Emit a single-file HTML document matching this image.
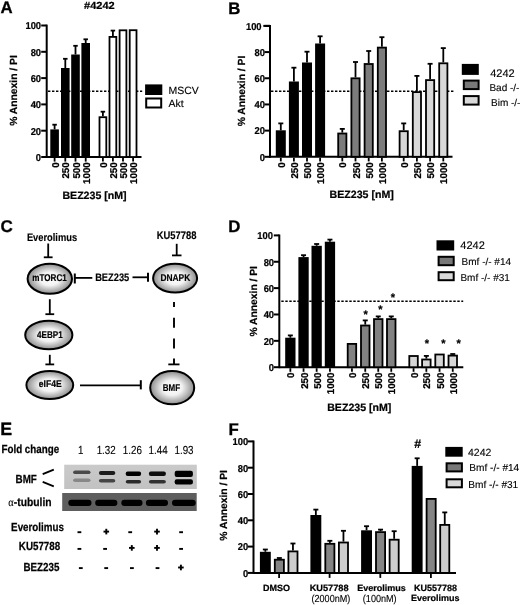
<!DOCTYPE html>
<html><head><meta charset="utf-8"><style>
html,body{margin:0;padding:0;background:#fff;}
svg{display:block;filter:grayscale(1);}
text{font-family:"Liberation Sans", sans-serif;text-rendering:geometricPrecision;}
</style></head><body>
<svg width="520" height="605" viewBox="0 0 520 605">
<rect width="520" height="605" fill="#fff"/>
<defs>
<radialGradient id="eg" cx="50%" cy="50%" r="50%">
<stop offset="0" stop-color="#ffffff"/><stop offset="0.45" stop-color="#f2f2f2"/><stop offset="1" stop-color="#8c8c8c"/>
</radialGradient>
<linearGradient id="bmfbg" x1="0" y1="0" x2="0" y2="1">
<stop offset="0" stop-color="#cacaca"/><stop offset="1" stop-color="#c2c2c2"/>
</linearGradient>
<filter id="blur" x="-20%" y="-100%" width="140%" height="300%"><feGaussianBlur stdDeviation="0.75"/></filter>
</defs>
<text transform="translate(0.50 13.40)" font-size="16.8" font-weight="bold" text-anchor="start" fill="#000" stroke="#000" stroke-width="0.3">A</text>
<text transform="translate(84.00 8.90) scale(1.07 1)" font-size="10.3" font-weight="bold" text-anchor="start" fill="#000" stroke="#000" stroke-width="0.22">#4242</text>
<line x1="46.70" y1="157.00" x2="141.50" y2="157.00" stroke="#000" stroke-width="2" stroke-linecap="butt"/>
<line x1="46.70" y1="24.60" x2="46.70" y2="158.00" stroke="#000" stroke-width="2" stroke-linecap="butt"/>
<line x1="41.20" y1="157.00" x2="46.70" y2="157.00" stroke="#000" stroke-width="2" stroke-linecap="butt"/>
<text transform="translate(41.10 160.85) scale(0.94 1)" font-size="10.0" font-weight="bold" text-anchor="end" fill="#000" stroke="#000" stroke-width="0.22">0</text>
<line x1="41.20" y1="130.70" x2="46.70" y2="130.70" stroke="#000" stroke-width="2" stroke-linecap="butt"/>
<text transform="translate(41.10 134.55) scale(0.94 1)" font-size="10.0" font-weight="bold" text-anchor="end" fill="#000" stroke="#000" stroke-width="0.22">20</text>
<line x1="41.20" y1="104.40" x2="46.70" y2="104.40" stroke="#000" stroke-width="2" stroke-linecap="butt"/>
<text transform="translate(41.10 108.25) scale(0.94 1)" font-size="10.0" font-weight="bold" text-anchor="end" fill="#000" stroke="#000" stroke-width="0.22">40</text>
<line x1="41.20" y1="78.10" x2="46.70" y2="78.10" stroke="#000" stroke-width="2" stroke-linecap="butt"/>
<text transform="translate(41.10 81.95) scale(0.94 1)" font-size="10.0" font-weight="bold" text-anchor="end" fill="#000" stroke="#000" stroke-width="0.22">60</text>
<line x1="41.20" y1="51.80" x2="46.70" y2="51.80" stroke="#000" stroke-width="2" stroke-linecap="butt"/>
<text transform="translate(41.10 55.65) scale(0.94 1)" font-size="10.0" font-weight="bold" text-anchor="end" fill="#000" stroke="#000" stroke-width="0.22">80</text>
<line x1="41.20" y1="25.50" x2="46.70" y2="25.50" stroke="#000" stroke-width="2" stroke-linecap="butt"/>
<text transform="translate(41.10 29.35) scale(0.94 1)" font-size="10.0" font-weight="bold" text-anchor="end" fill="#000" stroke="#000" stroke-width="0.22">100</text>
<text transform="translate(16.80 90.50) rotate(-90)" font-size="10.3" font-weight="bold" text-anchor="middle" fill="#000" stroke="#000" stroke-width="0.2">% Annexin / PI</text>
<line x1="48.00" y1="91.30" x2="142.20" y2="91.30" stroke="#000" stroke-width="1.6" stroke-linecap="butt" stroke-dasharray="2.4 1.6"/>
<line x1="54.60" y1="129.40" x2="54.60" y2="124.70" stroke="#000" stroke-width="1.8" stroke-linecap="butt"/>
<line x1="52.35" y1="124.70" x2="56.85" y2="124.70" stroke="#000" stroke-width="1.8" stroke-linecap="butt"/>
<rect x="50.30" y="129.40" width="8.60" height="27.60" fill="#000"/>
<line x1="65.30" y1="68.00" x2="65.30" y2="58.80" stroke="#000" stroke-width="1.8" stroke-linecap="butt"/>
<line x1="63.05" y1="58.80" x2="67.55" y2="58.80" stroke="#000" stroke-width="1.8" stroke-linecap="butt"/>
<rect x="61.00" y="68.00" width="8.60" height="89.00" fill="#000"/>
<line x1="75.50" y1="54.50" x2="75.50" y2="45.80" stroke="#000" stroke-width="1.8" stroke-linecap="butt"/>
<line x1="73.25" y1="45.80" x2="77.75" y2="45.80" stroke="#000" stroke-width="1.8" stroke-linecap="butt"/>
<rect x="71.20" y="54.50" width="8.60" height="102.50" fill="#000"/>
<line x1="85.70" y1="43.00" x2="85.70" y2="39.30" stroke="#000" stroke-width="1.8" stroke-linecap="butt"/>
<line x1="83.45" y1="39.30" x2="87.95" y2="39.30" stroke="#000" stroke-width="1.8" stroke-linecap="butt"/>
<rect x="81.40" y="43.00" width="8.60" height="114.00" fill="#000"/>
<line x1="102.90" y1="116.30" x2="102.90" y2="111.70" stroke="#000" stroke-width="1.8" stroke-linecap="butt"/>
<line x1="100.65" y1="111.70" x2="105.15" y2="111.70" stroke="#000" stroke-width="1.8" stroke-linecap="butt"/>
<rect x="99.50" y="117.20" width="6.80" height="39.80" fill="#fff" stroke="#000" stroke-width="1.8"/>
<line x1="112.90" y1="36.00" x2="112.90" y2="30.60" stroke="#000" stroke-width="1.8" stroke-linecap="butt"/>
<line x1="110.65" y1="30.60" x2="115.15" y2="30.60" stroke="#000" stroke-width="1.8" stroke-linecap="butt"/>
<rect x="109.50" y="36.90" width="6.80" height="120.10" fill="#fff" stroke="#000" stroke-width="1.8"/>
<rect x="119.60" y="30.30" width="6.80" height="126.70" fill="#fff" stroke="#000" stroke-width="1.8"/>
<rect x="129.70" y="30.20" width="6.80" height="126.80" fill="#fff" stroke="#000" stroke-width="1.8"/>
<line x1="54.60" y1="158.00" x2="54.60" y2="161.60" stroke="#000" stroke-width="1.8" stroke-linecap="butt"/>
<text transform="translate(58.70 162.30) rotate(-90) scale(0.985 1)" font-size="9.9" font-weight="bold" text-anchor="end" fill="#000" stroke="#000" stroke-width="0.25">0</text>
<line x1="65.30" y1="158.00" x2="65.30" y2="161.60" stroke="#000" stroke-width="1.8" stroke-linecap="butt"/>
<text transform="translate(69.40 162.30) rotate(-90) scale(0.985 1)" font-size="9.9" font-weight="bold" text-anchor="end" fill="#000" stroke="#000" stroke-width="0.25">250</text>
<line x1="75.50" y1="158.00" x2="75.50" y2="161.60" stroke="#000" stroke-width="1.8" stroke-linecap="butt"/>
<text transform="translate(79.60 162.30) rotate(-90) scale(0.985 1)" font-size="9.9" font-weight="bold" text-anchor="end" fill="#000" stroke="#000" stroke-width="0.25">500</text>
<line x1="85.70" y1="158.00" x2="85.70" y2="161.60" stroke="#000" stroke-width="1.8" stroke-linecap="butt"/>
<text transform="translate(89.80 162.30) rotate(-90) scale(0.985 1)" font-size="9.9" font-weight="bold" text-anchor="end" fill="#000" stroke="#000" stroke-width="0.25">1000</text>
<line x1="102.90" y1="158.00" x2="102.90" y2="161.60" stroke="#000" stroke-width="1.8" stroke-linecap="butt"/>
<text transform="translate(107.00 162.30) rotate(-90) scale(0.985 1)" font-size="9.9" font-weight="bold" text-anchor="end" fill="#000" stroke="#000" stroke-width="0.25">0</text>
<line x1="112.90" y1="158.00" x2="112.90" y2="161.60" stroke="#000" stroke-width="1.8" stroke-linecap="butt"/>
<text transform="translate(117.00 162.30) rotate(-90) scale(0.985 1)" font-size="9.9" font-weight="bold" text-anchor="end" fill="#000" stroke="#000" stroke-width="0.25">250</text>
<line x1="123.00" y1="158.00" x2="123.00" y2="161.60" stroke="#000" stroke-width="1.8" stroke-linecap="butt"/>
<text transform="translate(127.10 162.30) rotate(-90) scale(0.985 1)" font-size="9.9" font-weight="bold" text-anchor="end" fill="#000" stroke="#000" stroke-width="0.25">500</text>
<line x1="133.10" y1="158.00" x2="133.10" y2="161.60" stroke="#000" stroke-width="1.8" stroke-linecap="butt"/>
<text transform="translate(137.20 162.30) rotate(-90) scale(0.985 1)" font-size="9.9" font-weight="bold" text-anchor="end" fill="#000" stroke="#000" stroke-width="0.25">1000</text>
<text transform="translate(94.50 199.20)" font-size="10.6" font-weight="bold" text-anchor="middle" fill="#000" stroke="#000" stroke-width="0.22">BEZ235 [nM]</text>
<rect x="145.10" y="84.40" width="17.20" height="10.60" fill="#000"/>
<rect x="146.20" y="98.50" width="15.00" height="9.00" fill="#fff" stroke="#000" stroke-width="2"/>
<text transform="translate(168.50 93.80)" font-size="10.5" font-weight="normal" text-anchor="start" fill="#000" stroke="#000" stroke-width="0.12">MSCV</text>
<text transform="translate(168.50 106.80)" font-size="10.5" font-weight="normal" text-anchor="start" fill="#000" stroke="#000" stroke-width="0.12">Akt</text>
<text transform="translate(228.20 13.50)" font-size="16.8" font-weight="bold" text-anchor="start" fill="#000" stroke="#000" stroke-width="0.3">B</text>
<line x1="270.00" y1="156.80" x2="452.50" y2="156.80" stroke="#000" stroke-width="2" stroke-linecap="butt"/>
<line x1="270.00" y1="25.00" x2="270.00" y2="157.80" stroke="#000" stroke-width="2" stroke-linecap="butt"/>
<line x1="264.50" y1="156.80" x2="270.00" y2="156.80" stroke="#000" stroke-width="2" stroke-linecap="butt"/>
<text transform="translate(264.90 160.65) scale(0.94 1)" font-size="10.0" font-weight="bold" text-anchor="end" fill="#000" stroke="#000" stroke-width="0.22">0</text>
<line x1="264.50" y1="130.62" x2="270.00" y2="130.62" stroke="#000" stroke-width="2" stroke-linecap="butt"/>
<text transform="translate(264.90 134.47) scale(0.94 1)" font-size="10.0" font-weight="bold" text-anchor="end" fill="#000" stroke="#000" stroke-width="0.22">20</text>
<line x1="264.50" y1="104.44" x2="270.00" y2="104.44" stroke="#000" stroke-width="2" stroke-linecap="butt"/>
<text transform="translate(264.90 108.29) scale(0.94 1)" font-size="10.0" font-weight="bold" text-anchor="end" fill="#000" stroke="#000" stroke-width="0.22">40</text>
<line x1="264.50" y1="78.26" x2="270.00" y2="78.26" stroke="#000" stroke-width="2" stroke-linecap="butt"/>
<text transform="translate(264.90 82.11) scale(0.94 1)" font-size="10.0" font-weight="bold" text-anchor="end" fill="#000" stroke="#000" stroke-width="0.22">60</text>
<line x1="264.50" y1="52.08" x2="270.00" y2="52.08" stroke="#000" stroke-width="2" stroke-linecap="butt"/>
<text transform="translate(264.90 55.93) scale(0.94 1)" font-size="10.0" font-weight="bold" text-anchor="end" fill="#000" stroke="#000" stroke-width="0.22">80</text>
<line x1="264.50" y1="25.90" x2="270.00" y2="25.90" stroke="#000" stroke-width="2" stroke-linecap="butt"/>
<text transform="translate(261.60 29.75) scale(0.94 1)" font-size="10.0" font-weight="bold" text-anchor="end" fill="#000" stroke="#000" stroke-width="0.22">100</text>
<text transform="translate(244.50 91.00) rotate(-90)" font-size="10.3" font-weight="bold" text-anchor="middle" fill="#000" stroke="#000" stroke-width="0.2">% Annexin / PI</text>
<line x1="271.00" y1="91.30" x2="454.00" y2="91.30" stroke="#000" stroke-width="1.6" stroke-linecap="butt" stroke-dasharray="2.4 1.6"/>
<line x1="280.80" y1="130.30" x2="280.80" y2="123.40" stroke="#000" stroke-width="1.8" stroke-linecap="butt"/>
<line x1="278.30" y1="123.40" x2="283.30" y2="123.40" stroke="#000" stroke-width="1.8" stroke-linecap="butt"/>
<rect x="275.80" y="130.30" width="10.00" height="26.50" fill="#000"/>
<line x1="293.90" y1="81.50" x2="293.90" y2="67.70" stroke="#000" stroke-width="1.8" stroke-linecap="butt"/>
<line x1="291.40" y1="67.70" x2="296.40" y2="67.70" stroke="#000" stroke-width="1.8" stroke-linecap="butt"/>
<rect x="288.90" y="81.50" width="10.00" height="75.30" fill="#000"/>
<line x1="307.00" y1="62.50" x2="307.00" y2="51.70" stroke="#000" stroke-width="1.8" stroke-linecap="butt"/>
<line x1="304.50" y1="51.70" x2="309.50" y2="51.70" stroke="#000" stroke-width="1.8" stroke-linecap="butt"/>
<rect x="302.00" y="62.50" width="10.00" height="94.30" fill="#000"/>
<line x1="320.10" y1="43.50" x2="320.10" y2="36.30" stroke="#000" stroke-width="1.8" stroke-linecap="butt"/>
<line x1="317.60" y1="36.30" x2="322.60" y2="36.30" stroke="#000" stroke-width="1.8" stroke-linecap="butt"/>
<rect x="315.10" y="43.50" width="10.00" height="113.30" fill="#000"/>
<line x1="342.30" y1="132.60" x2="342.30" y2="128.90" stroke="#000" stroke-width="1.8" stroke-linecap="butt"/>
<line x1="339.80" y1="128.90" x2="344.80" y2="128.90" stroke="#000" stroke-width="1.8" stroke-linecap="butt"/>
<rect x="338.20" y="133.50" width="8.20" height="23.30" fill="#7c7c7c" stroke="#000" stroke-width="1.8"/>
<line x1="355.50" y1="77.40" x2="355.50" y2="62.00" stroke="#000" stroke-width="1.8" stroke-linecap="butt"/>
<line x1="353.00" y1="62.00" x2="358.00" y2="62.00" stroke="#000" stroke-width="1.8" stroke-linecap="butt"/>
<rect x="351.40" y="78.30" width="8.20" height="78.50" fill="#7c7c7c" stroke="#000" stroke-width="1.8"/>
<line x1="368.70" y1="63.10" x2="368.70" y2="51.00" stroke="#000" stroke-width="1.8" stroke-linecap="butt"/>
<line x1="366.20" y1="51.00" x2="371.20" y2="51.00" stroke="#000" stroke-width="1.8" stroke-linecap="butt"/>
<rect x="364.60" y="64.00" width="8.20" height="92.80" fill="#7c7c7c" stroke="#000" stroke-width="1.8"/>
<line x1="381.90" y1="46.70" x2="381.90" y2="37.20" stroke="#000" stroke-width="1.8" stroke-linecap="butt"/>
<line x1="379.40" y1="37.20" x2="384.40" y2="37.20" stroke="#000" stroke-width="1.8" stroke-linecap="butt"/>
<rect x="377.80" y="47.60" width="8.20" height="109.20" fill="#7c7c7c" stroke="#000" stroke-width="1.8"/>
<line x1="403.70" y1="130.30" x2="403.70" y2="123.40" stroke="#000" stroke-width="1.8" stroke-linecap="butt"/>
<line x1="401.20" y1="123.40" x2="406.20" y2="123.40" stroke="#000" stroke-width="1.8" stroke-linecap="butt"/>
<rect x="399.60" y="131.20" width="8.20" height="25.60" fill="#d8d8d8" stroke="#000" stroke-width="1.8"/>
<line x1="416.90" y1="91.20" x2="416.90" y2="75.90" stroke="#000" stroke-width="1.8" stroke-linecap="butt"/>
<line x1="414.40" y1="75.90" x2="419.40" y2="75.90" stroke="#000" stroke-width="1.8" stroke-linecap="butt"/>
<rect x="412.80" y="92.10" width="8.20" height="64.70" fill="#d8d8d8" stroke="#000" stroke-width="1.8"/>
<line x1="430.10" y1="79.20" x2="430.10" y2="63.80" stroke="#000" stroke-width="1.8" stroke-linecap="butt"/>
<line x1="427.60" y1="63.80" x2="432.60" y2="63.80" stroke="#000" stroke-width="1.8" stroke-linecap="butt"/>
<rect x="426.00" y="80.10" width="8.20" height="76.70" fill="#d8d8d8" stroke="#000" stroke-width="1.8"/>
<line x1="443.30" y1="62.40" x2="443.30" y2="48.10" stroke="#000" stroke-width="1.8" stroke-linecap="butt"/>
<line x1="440.80" y1="48.10" x2="445.80" y2="48.10" stroke="#000" stroke-width="1.8" stroke-linecap="butt"/>
<rect x="439.20" y="63.30" width="8.20" height="93.50" fill="#d8d8d8" stroke="#000" stroke-width="1.8"/>
<line x1="280.80" y1="157.80" x2="280.80" y2="161.40" stroke="#000" stroke-width="1.8" stroke-linecap="butt"/>
<text transform="translate(284.90 162.30) rotate(-90) scale(0.985 1)" font-size="9.9" font-weight="bold" text-anchor="end" fill="#000" stroke="#000" stroke-width="0.25">0</text>
<line x1="293.90" y1="157.80" x2="293.90" y2="161.40" stroke="#000" stroke-width="1.8" stroke-linecap="butt"/>
<text transform="translate(298.00 162.30) rotate(-90) scale(0.985 1)" font-size="9.9" font-weight="bold" text-anchor="end" fill="#000" stroke="#000" stroke-width="0.25">250</text>
<line x1="307.00" y1="157.80" x2="307.00" y2="161.40" stroke="#000" stroke-width="1.8" stroke-linecap="butt"/>
<text transform="translate(311.10 162.30) rotate(-90) scale(0.985 1)" font-size="9.9" font-weight="bold" text-anchor="end" fill="#000" stroke="#000" stroke-width="0.25">500</text>
<line x1="320.10" y1="157.80" x2="320.10" y2="161.40" stroke="#000" stroke-width="1.8" stroke-linecap="butt"/>
<text transform="translate(324.20 162.30) rotate(-90) scale(0.985 1)" font-size="9.9" font-weight="bold" text-anchor="end" fill="#000" stroke="#000" stroke-width="0.25">1000</text>
<line x1="342.30" y1="157.80" x2="342.30" y2="161.40" stroke="#000" stroke-width="1.8" stroke-linecap="butt"/>
<text transform="translate(346.40 162.30) rotate(-90) scale(0.985 1)" font-size="9.9" font-weight="bold" text-anchor="end" fill="#000" stroke="#000" stroke-width="0.25">0</text>
<line x1="355.50" y1="157.80" x2="355.50" y2="161.40" stroke="#000" stroke-width="1.8" stroke-linecap="butt"/>
<text transform="translate(359.60 162.30) rotate(-90) scale(0.985 1)" font-size="9.9" font-weight="bold" text-anchor="end" fill="#000" stroke="#000" stroke-width="0.25">250</text>
<line x1="368.70" y1="157.80" x2="368.70" y2="161.40" stroke="#000" stroke-width="1.8" stroke-linecap="butt"/>
<text transform="translate(372.80 162.30) rotate(-90) scale(0.985 1)" font-size="9.9" font-weight="bold" text-anchor="end" fill="#000" stroke="#000" stroke-width="0.25">500</text>
<line x1="381.90" y1="157.80" x2="381.90" y2="161.40" stroke="#000" stroke-width="1.8" stroke-linecap="butt"/>
<text transform="translate(386.00 162.30) rotate(-90) scale(0.985 1)" font-size="9.9" font-weight="bold" text-anchor="end" fill="#000" stroke="#000" stroke-width="0.25">1000</text>
<line x1="403.70" y1="157.80" x2="403.70" y2="161.40" stroke="#000" stroke-width="1.8" stroke-linecap="butt"/>
<text transform="translate(407.80 162.30) rotate(-90) scale(0.985 1)" font-size="9.9" font-weight="bold" text-anchor="end" fill="#000" stroke="#000" stroke-width="0.25">0</text>
<line x1="416.90" y1="157.80" x2="416.90" y2="161.40" stroke="#000" stroke-width="1.8" stroke-linecap="butt"/>
<text transform="translate(421.00 162.30) rotate(-90) scale(0.985 1)" font-size="9.9" font-weight="bold" text-anchor="end" fill="#000" stroke="#000" stroke-width="0.25">250</text>
<line x1="430.10" y1="157.80" x2="430.10" y2="161.40" stroke="#000" stroke-width="1.8" stroke-linecap="butt"/>
<text transform="translate(434.20 162.30) rotate(-90) scale(0.985 1)" font-size="9.9" font-weight="bold" text-anchor="end" fill="#000" stroke="#000" stroke-width="0.25">500</text>
<line x1="443.30" y1="157.80" x2="443.30" y2="161.40" stroke="#000" stroke-width="1.8" stroke-linecap="butt"/>
<text transform="translate(447.40 162.30) rotate(-90) scale(0.985 1)" font-size="9.9" font-weight="bold" text-anchor="end" fill="#000" stroke="#000" stroke-width="0.25">1000</text>
<text transform="translate(361.70 197.90)" font-size="10.6" font-weight="bold" text-anchor="middle" fill="#000" stroke="#000" stroke-width="0.22">BEZ235 [nM]</text>
<line x1="263.30" y1="25.90" x2="270.00" y2="25.90" stroke="#000" stroke-width="2" stroke-linecap="butt"/>
<rect x="461.80" y="63.90" width="17.00" height="11.00" fill="#000"/>
<rect x="463.80" y="80.60" width="14.80" height="8.50" fill="#787878" stroke="#000" stroke-width="2"/>
<rect x="463.80" y="96.10" width="14.80" height="8.50" fill="#d9d9d9" stroke="#000" stroke-width="2"/>
<text transform="translate(490.20 76.70)" font-size="11" font-weight="normal" text-anchor="start" fill="#000" stroke="#000" stroke-width="0.12">4242</text>
<text transform="translate(489.40 90.60)" font-size="10" font-weight="normal" text-anchor="start" fill="#000" stroke="#000" stroke-width="0.12">Bad -/-</text>
<text transform="translate(491.00 106.30)" font-size="10" font-weight="normal" text-anchor="start" fill="#000" stroke="#000" stroke-width="0.12">Bim -/-</text>
<text transform="translate(0.60 231.80)" font-size="17" font-weight="bold" text-anchor="start" fill="#000" stroke="#000" stroke-width="0.3">C</text>
<text transform="translate(52.00 241.00) scale(0.855 1)" font-size="10.9" font-weight="bold" text-anchor="middle" fill="#000" stroke="#000" stroke-width="0.15">Everolimus</text>
<line x1="48.20" y1="243.50" x2="48.20" y2="257.30" stroke="#000" stroke-width="1.8" stroke-linecap="butt"/>
<line x1="43.80" y1="257.30" x2="52.60" y2="257.30" stroke="#000" stroke-width="1.8" stroke-linecap="butt"/>
<ellipse cx="49.8" cy="278.7" rx="22.2" ry="15.0" fill="url(#eg)" stroke="#000" stroke-width="2"/>
<text transform="translate(49.50 281.00) scale(0.8265306122448979 1)" font-size="9.8" font-weight="bold" text-anchor="middle" fill="#000" stroke="#000" stroke-width="0.2">mTORC1</text>
<line x1="74.80" y1="273.50" x2="74.80" y2="283.50" stroke="#000" stroke-width="2" stroke-linecap="butt"/>
<line x1="74.80" y1="277.90" x2="92.30" y2="277.90" stroke="#000" stroke-width="1.8" stroke-linecap="butt"/>
<text transform="translate(112.20 281.00) scale(0.855 1)" font-size="10.9" font-weight="bold" text-anchor="middle" fill="#000" stroke="#000" stroke-width="0.15">BEZ235</text>
<line x1="132.50" y1="277.30" x2="148.00" y2="277.30" stroke="#000" stroke-width="1.8" stroke-linecap="butt"/>
<line x1="148.00" y1="272.70" x2="148.00" y2="281.70" stroke="#000" stroke-width="2" stroke-linecap="butt"/>
<ellipse cx="175.1" cy="278.2" rx="22.0" ry="14.4" fill="url(#eg)" stroke="#000" stroke-width="2"/>
<text transform="translate(175.35 280.70) scale(0.8571428571428571 1)" font-size="9.8" font-weight="bold" text-anchor="middle" fill="#000" stroke="#000" stroke-width="0.2">DNAPK</text>
<text transform="translate(176.60 238.90) scale(0.855 1)" font-size="11.0" font-weight="bold" text-anchor="middle" fill="#000" stroke="#000" stroke-width="0.15">KU57788</text>
<line x1="176.70" y1="243.80" x2="176.70" y2="255.40" stroke="#000" stroke-width="1.8" stroke-linecap="butt"/>
<line x1="172.00" y1="255.40" x2="181.50" y2="255.40" stroke="#000" stroke-width="1.8" stroke-linecap="butt"/>
<line x1="49.80" y1="299.20" x2="49.80" y2="314.20" stroke="#000" stroke-width="1.8" stroke-linecap="butt"/>
<line x1="45.40" y1="314.20" x2="54.20" y2="314.20" stroke="#000" stroke-width="1.8" stroke-linecap="butt"/>
<ellipse cx="48.8" cy="335.0" rx="23.6" ry="14.3" fill="url(#eg)" stroke="#000" stroke-width="2"/>
<text transform="translate(49.85 338.30) scale(0.8265306122448979 1)" font-size="9.8" font-weight="bold" text-anchor="middle" fill="#000" stroke="#000" stroke-width="0.2">4EBP1</text>
<line x1="49.80" y1="354.80" x2="49.80" y2="364.40" stroke="#000" stroke-width="1.8" stroke-linecap="butt"/>
<line x1="45.40" y1="364.40" x2="54.20" y2="364.40" stroke="#000" stroke-width="1.8" stroke-linecap="butt"/>
<ellipse cx="49.8" cy="385.0" rx="23.4" ry="14.1" fill="url(#eg)" stroke="#000" stroke-width="2"/>
<text transform="translate(50.25 387.00) scale(0.8775510204081631 1)" font-size="9.8" font-weight="bold" text-anchor="middle" fill="#000" stroke="#000" stroke-width="0.2">eIF4E</text>
<line x1="80.00" y1="385.40" x2="140.80" y2="385.40" stroke="#000" stroke-width="1.8" stroke-linecap="butt"/>
<line x1="140.80" y1="380.20" x2="140.80" y2="389.40" stroke="#000" stroke-width="2" stroke-linecap="butt"/>
<line x1="174.00" y1="301.90" x2="174.00" y2="306.90" stroke="#000" stroke-width="1.9" stroke-linecap="butt"/>
<line x1="174.00" y1="317.80" x2="174.00" y2="327.80" stroke="#000" stroke-width="1.9" stroke-linecap="butt"/>
<line x1="174.00" y1="338.60" x2="174.00" y2="348.50" stroke="#000" stroke-width="1.9" stroke-linecap="butt"/>
<line x1="174.00" y1="358.50" x2="174.00" y2="364.40" stroke="#000" stroke-width="1.9" stroke-linecap="butt"/>
<line x1="168.30" y1="364.40" x2="179.50" y2="364.40" stroke="#000" stroke-width="1.8" stroke-linecap="butt"/>
<ellipse cx="172.2" cy="387.7" rx="22.0" ry="16.6" fill="url(#eg)" stroke="#000" stroke-width="2"/>
<text transform="translate(171.35 390.50) scale(0.8163265306122448 1)" font-size="9.8" font-weight="bold" text-anchor="middle" fill="#000" stroke="#000" stroke-width="0.2">BMF</text>
<text transform="translate(228.20 231.60)" font-size="16.8" font-weight="bold" text-anchor="start" fill="#000" stroke="#000" stroke-width="0.3">D</text>
<line x1="279.30" y1="367.20" x2="463.30" y2="367.20" stroke="#000" stroke-width="2" stroke-linecap="butt"/>
<line x1="279.30" y1="234.50" x2="279.30" y2="368.20" stroke="#000" stroke-width="2" stroke-linecap="butt"/>
<line x1="273.80" y1="367.20" x2="279.30" y2="367.20" stroke="#000" stroke-width="2" stroke-linecap="butt"/>
<text transform="translate(274.10 371.05) scale(0.94 1)" font-size="10.0" font-weight="bold" text-anchor="end" fill="#000" stroke="#000" stroke-width="0.22">0</text>
<line x1="273.80" y1="340.84" x2="279.30" y2="340.84" stroke="#000" stroke-width="2" stroke-linecap="butt"/>
<text transform="translate(274.10 344.69) scale(0.94 1)" font-size="10.0" font-weight="bold" text-anchor="end" fill="#000" stroke="#000" stroke-width="0.22">20</text>
<line x1="273.80" y1="314.48" x2="279.30" y2="314.48" stroke="#000" stroke-width="2" stroke-linecap="butt"/>
<text transform="translate(274.10 318.33) scale(0.94 1)" font-size="10.0" font-weight="bold" text-anchor="end" fill="#000" stroke="#000" stroke-width="0.22">40</text>
<line x1="273.80" y1="288.12" x2="279.30" y2="288.12" stroke="#000" stroke-width="2" stroke-linecap="butt"/>
<text transform="translate(274.10 291.97) scale(0.94 1)" font-size="10.0" font-weight="bold" text-anchor="end" fill="#000" stroke="#000" stroke-width="0.22">60</text>
<line x1="273.80" y1="261.76" x2="279.30" y2="261.76" stroke="#000" stroke-width="2" stroke-linecap="butt"/>
<text transform="translate(274.10 265.61) scale(0.94 1)" font-size="10.0" font-weight="bold" text-anchor="end" fill="#000" stroke="#000" stroke-width="0.22">80</text>
<line x1="273.80" y1="235.40" x2="279.30" y2="235.40" stroke="#000" stroke-width="2" stroke-linecap="butt"/>
<text transform="translate(273.00 239.25) scale(0.94 1)" font-size="10.0" font-weight="bold" text-anchor="end" fill="#000" stroke="#000" stroke-width="0.22">100</text>
<text transform="translate(256.50 301.30) rotate(-90)" font-size="10.3" font-weight="bold" text-anchor="middle" fill="#000" stroke="#000" stroke-width="0.2">% Annexin / PI</text>
<line x1="281.30" y1="301.20" x2="463.20" y2="301.20" stroke="#000" stroke-width="1.6" stroke-linecap="butt" stroke-dasharray="2.4 1.6"/>
<line x1="290.35" y1="337.70" x2="290.35" y2="335.40" stroke="#000" stroke-width="1.8" stroke-linecap="butt"/>
<line x1="287.85" y1="335.40" x2="292.85" y2="335.40" stroke="#000" stroke-width="1.8" stroke-linecap="butt"/>
<rect x="285.20" y="337.70" width="10.30" height="29.50" fill="#000"/>
<line x1="303.55" y1="257.10" x2="303.55" y2="255.20" stroke="#000" stroke-width="1.8" stroke-linecap="butt"/>
<line x1="301.05" y1="255.20" x2="306.05" y2="255.20" stroke="#000" stroke-width="1.8" stroke-linecap="butt"/>
<rect x="298.40" y="257.10" width="10.30" height="110.10" fill="#000"/>
<line x1="316.65" y1="245.80" x2="316.65" y2="244.00" stroke="#000" stroke-width="1.8" stroke-linecap="butt"/>
<line x1="314.15" y1="244.00" x2="319.15" y2="244.00" stroke="#000" stroke-width="1.8" stroke-linecap="butt"/>
<rect x="311.50" y="245.80" width="10.30" height="121.40" fill="#000"/>
<line x1="329.95" y1="241.70" x2="329.95" y2="239.60" stroke="#000" stroke-width="1.8" stroke-linecap="butt"/>
<line x1="327.45" y1="239.60" x2="332.45" y2="239.60" stroke="#000" stroke-width="1.8" stroke-linecap="butt"/>
<rect x="324.80" y="241.70" width="10.30" height="125.50" fill="#000"/>
<rect x="347.70" y="343.90" width="8.50" height="23.30" fill="#828282" stroke="#000" stroke-width="1.8"/>
<line x1="365.25" y1="324.60" x2="365.25" y2="320.40" stroke="#000" stroke-width="1.8" stroke-linecap="butt"/>
<line x1="362.75" y1="320.40" x2="367.75" y2="320.40" stroke="#000" stroke-width="1.8" stroke-linecap="butt"/>
<rect x="361.00" y="325.50" width="8.50" height="41.70" fill="#828282" stroke="#000" stroke-width="1.8"/>
<line x1="378.25" y1="318.20" x2="378.25" y2="316.40" stroke="#000" stroke-width="1.8" stroke-linecap="butt"/>
<line x1="375.75" y1="316.40" x2="380.75" y2="316.40" stroke="#000" stroke-width="1.8" stroke-linecap="butt"/>
<rect x="374.00" y="319.10" width="8.50" height="48.10" fill="#828282" stroke="#000" stroke-width="1.8"/>
<line x1="391.25" y1="318.20" x2="391.25" y2="316.40" stroke="#000" stroke-width="1.8" stroke-linecap="butt"/>
<line x1="388.75" y1="316.40" x2="393.75" y2="316.40" stroke="#000" stroke-width="1.8" stroke-linecap="butt"/>
<rect x="387.00" y="319.10" width="8.50" height="48.10" fill="#828282" stroke="#000" stroke-width="1.8"/>
<rect x="409.30" y="356.00" width="8.50" height="11.20" fill="#d6d6d6" stroke="#000" stroke-width="1.8"/>
<line x1="426.35" y1="358.60" x2="426.35" y2="355.90" stroke="#000" stroke-width="1.8" stroke-linecap="butt"/>
<line x1="423.85" y1="355.90" x2="428.85" y2="355.90" stroke="#000" stroke-width="1.8" stroke-linecap="butt"/>
<rect x="422.10" y="359.50" width="8.50" height="7.70" fill="#d6d6d6" stroke="#000" stroke-width="1.8"/>
<rect x="435.30" y="354.50" width="8.50" height="12.70" fill="#d6d6d6" stroke="#000" stroke-width="1.8"/>
<line x1="452.75" y1="354.70" x2="452.75" y2="354.00" stroke="#000" stroke-width="1.8" stroke-linecap="butt"/>
<line x1="450.25" y1="354.00" x2="455.25" y2="354.00" stroke="#000" stroke-width="1.8" stroke-linecap="butt"/>
<rect x="448.50" y="355.60" width="8.50" height="11.60" fill="#d6d6d6" stroke="#000" stroke-width="1.8"/>
<line x1="290.35" y1="368.20" x2="290.35" y2="371.80" stroke="#000" stroke-width="1.8" stroke-linecap="butt"/>
<text transform="translate(294.45 372.60) rotate(-90) scale(0.985 1)" font-size="9.9" font-weight="bold" text-anchor="end" fill="#000" stroke="#000" stroke-width="0.25">0</text>
<line x1="303.55" y1="368.20" x2="303.55" y2="371.80" stroke="#000" stroke-width="1.8" stroke-linecap="butt"/>
<text transform="translate(307.65 372.60) rotate(-90) scale(0.985 1)" font-size="9.9" font-weight="bold" text-anchor="end" fill="#000" stroke="#000" stroke-width="0.25">250</text>
<line x1="316.65" y1="368.20" x2="316.65" y2="371.80" stroke="#000" stroke-width="1.8" stroke-linecap="butt"/>
<text transform="translate(320.75 372.60) rotate(-90) scale(0.985 1)" font-size="9.9" font-weight="bold" text-anchor="end" fill="#000" stroke="#000" stroke-width="0.25">500</text>
<line x1="329.95" y1="368.20" x2="329.95" y2="371.80" stroke="#000" stroke-width="1.8" stroke-linecap="butt"/>
<text transform="translate(334.05 372.60) rotate(-90) scale(0.985 1)" font-size="9.9" font-weight="bold" text-anchor="end" fill="#000" stroke="#000" stroke-width="0.25">1000</text>
<line x1="351.95" y1="368.20" x2="351.95" y2="371.80" stroke="#000" stroke-width="1.8" stroke-linecap="butt"/>
<text transform="translate(356.05 372.60) rotate(-90) scale(0.985 1)" font-size="9.9" font-weight="bold" text-anchor="end" fill="#000" stroke="#000" stroke-width="0.25">0</text>
<line x1="365.25" y1="368.20" x2="365.25" y2="371.80" stroke="#000" stroke-width="1.8" stroke-linecap="butt"/>
<text transform="translate(369.35 372.60) rotate(-90) scale(0.985 1)" font-size="9.9" font-weight="bold" text-anchor="end" fill="#000" stroke="#000" stroke-width="0.25">250</text>
<line x1="378.25" y1="368.20" x2="378.25" y2="371.80" stroke="#000" stroke-width="1.8" stroke-linecap="butt"/>
<text transform="translate(382.35 372.60) rotate(-90) scale(0.985 1)" font-size="9.9" font-weight="bold" text-anchor="end" fill="#000" stroke="#000" stroke-width="0.25">500</text>
<line x1="391.25" y1="368.20" x2="391.25" y2="371.80" stroke="#000" stroke-width="1.8" stroke-linecap="butt"/>
<text transform="translate(395.35 372.60) rotate(-90) scale(0.985 1)" font-size="9.9" font-weight="bold" text-anchor="end" fill="#000" stroke="#000" stroke-width="0.25">1000</text>
<line x1="413.55" y1="368.20" x2="413.55" y2="371.80" stroke="#000" stroke-width="1.8" stroke-linecap="butt"/>
<text transform="translate(417.65 372.60) rotate(-90) scale(0.985 1)" font-size="9.9" font-weight="bold" text-anchor="end" fill="#000" stroke="#000" stroke-width="0.25">0</text>
<line x1="426.35" y1="368.20" x2="426.35" y2="371.80" stroke="#000" stroke-width="1.8" stroke-linecap="butt"/>
<text transform="translate(430.45 372.60) rotate(-90) scale(0.985 1)" font-size="9.9" font-weight="bold" text-anchor="end" fill="#000" stroke="#000" stroke-width="0.25">250</text>
<line x1="439.55" y1="368.20" x2="439.55" y2="371.80" stroke="#000" stroke-width="1.8" stroke-linecap="butt"/>
<text transform="translate(443.65 372.60) rotate(-90) scale(0.985 1)" font-size="9.9" font-weight="bold" text-anchor="end" fill="#000" stroke="#000" stroke-width="0.25">500</text>
<line x1="452.75" y1="368.20" x2="452.75" y2="371.80" stroke="#000" stroke-width="1.8" stroke-linecap="butt"/>
<text transform="translate(456.85 372.60) rotate(-90) scale(0.985 1)" font-size="9.9" font-weight="bold" text-anchor="end" fill="#000" stroke="#000" stroke-width="0.25">1000</text>
<text transform="translate(365.60 318.30)" font-size="11" font-weight="bold" text-anchor="middle" fill="#000" stroke="#000" stroke-width="0.22">*</text>
<text transform="translate(380.40 312.90)" font-size="11" font-weight="bold" text-anchor="middle" fill="#000" stroke="#000" stroke-width="0.22">*</text>
<text transform="translate(392.80 300.80)" font-size="11" font-weight="bold" text-anchor="middle" fill="#000" stroke="#000" stroke-width="0.22">*</text>
<text transform="translate(426.80 346.70)" font-size="11" font-weight="bold" text-anchor="middle" fill="#000" stroke="#000" stroke-width="0.22">*</text>
<text transform="translate(443.30 346.70)" font-size="11" font-weight="bold" text-anchor="middle" fill="#000" stroke="#000" stroke-width="0.22">*</text>
<text transform="translate(458.70 346.70)" font-size="11" font-weight="bold" text-anchor="middle" fill="#000" stroke="#000" stroke-width="0.22">*</text>
<text transform="translate(359.30 411.20)" font-size="10.6" font-weight="bold" text-anchor="middle" fill="#000" stroke="#000" stroke-width="0.22">BEZ235 [nM]</text>
<rect x="436.50" y="240.30" width="17.70" height="10.20" fill="#000"/>
<rect x="438.60" y="256.80" width="15.10" height="8.40" fill="#787878" stroke="#000" stroke-width="2"/>
<rect x="438.60" y="272.20" width="15.10" height="8.00" fill="#d9d9d9" stroke="#000" stroke-width="2"/>
<text transform="translate(460.30 248.90)" font-size="11" font-weight="normal" text-anchor="start" fill="#000" stroke="#000" stroke-width="0.12">4242</text>
<text transform="translate(461.60 265.00)" font-size="10" font-weight="normal" text-anchor="start" fill="#000" stroke="#000" stroke-width="0.12">Bmf -/- #14</text>
<text transform="translate(460.40 280.50)" font-size="10" font-weight="normal" text-anchor="start" fill="#000" stroke="#000" stroke-width="0.12">Bmf -/- #31</text>
<text transform="translate(0.20 434.60)" font-size="17.8" font-weight="bold" text-anchor="start" fill="#000" stroke="#000" stroke-width="0.3">E</text>
<text transform="translate(1.50 452.80) scale(0.833 1)" font-size="11.76" font-weight="bold" text-anchor="start" fill="#000" stroke="#000" stroke-width="0.25">Fold change</text>
<text transform="translate(80.60 453.80) scale(0.833 1)" font-size="11.76" font-weight="normal" text-anchor="middle" fill="#000" stroke="#000" stroke-width="0.12">1</text>
<text transform="translate(106.20 453.80) scale(0.833 1)" font-size="11.76" font-weight="normal" text-anchor="middle" fill="#000" stroke="#000" stroke-width="0.12">1.32</text>
<text transform="translate(132.40 453.80) scale(0.833 1)" font-size="11.76" font-weight="normal" text-anchor="middle" fill="#000" stroke="#000" stroke-width="0.12">1.26</text>
<text transform="translate(158.10 453.80) scale(0.833 1)" font-size="11.76" font-weight="normal" text-anchor="middle" fill="#000" stroke="#000" stroke-width="0.12">1.44</text>
<text transform="translate(184.00 453.80) scale(0.833 1)" font-size="11.76" font-weight="normal" text-anchor="middle" fill="#000" stroke="#000" stroke-width="0.12">1.93</text>
<text transform="translate(26.20 482.50) scale(0.833 1)" font-size="11.8" font-weight="bold" text-anchor="middle" fill="#000" stroke="#000" stroke-width="0.25">BMF</text>
<line x1="42.70" y1="474.20" x2="53.80" y2="469.60" stroke="#000" stroke-width="1.8" stroke-linecap="butt"/>
<line x1="42.70" y1="481.90" x2="53.80" y2="486.30" stroke="#000" stroke-width="1.8" stroke-linecap="butt"/>
<text transform="translate(30.00 506.20) scale(0.875 1)" font-size="11.8" font-weight="bold" text-anchor="middle" fill="#000" stroke="#000" stroke-width="0.25"><tspan font-family="Liberation Serif" font-weight="normal" stroke-width="0.1">α</tspan>-tubulin</text>
<rect x="64.2" y="464.7" width="132.6" height="24.3" fill="url(#bmfbg)"/>
<rect x="62.2" y="493.0" width="134.5" height="18.0" fill="#5e5e5e"/>
<rect x="73.1" y="470.40000000000003" width="17.4" height="3.6999999999999544" rx="2" fill="#4a4a4a" filter="url(#blur)"/>
<rect x="98.89999999999999" y="471.0" width="16.4" height="3.9" rx="2" fill="#1e1e1e" filter="url(#blur)"/>
<rect x="125.7" y="471.6" width="15.4" height="4.499999999999966" rx="2" fill="#000" filter="url(#blur)"/>
<rect x="148.9" y="471.6" width="16.999999999999993" height="4.499999999999966" rx="2" fill="#0a0a0a" filter="url(#blur)"/>
<rect x="174.70000000000002" y="470.8" width="18.19999999999998" height="6.200000000000012" rx="2" fill="#000" filter="url(#blur)"/>
<rect x="73.1" y="478.40000000000003" width="17.4" height="3.499999999999966" rx="2" fill="#888" filter="url(#blur)"/>
<rect x="98.89999999999999" y="479.0" width="16.4" height="3.5999999999999885" rx="2" fill="#444" filter="url(#blur)"/>
<rect x="125.7" y="479.90000000000003" width="15.4" height="3.5999999999999885" rx="2" fill="#2a2a2a" filter="url(#blur)"/>
<rect x="148.9" y="479.90000000000003" width="16.999999999999993" height="3.5999999999999885" rx="2" fill="#333" filter="url(#blur)"/>
<rect x="174.70000000000002" y="479.3" width="18.19999999999998" height="5.099999999999989" rx="2" fill="#000" filter="url(#blur)"/>
<rect x="68.3" y="499.7" width="23.200000000000003" height="6.2" rx="3" fill="#000" filter="url(#blur)"/>
<rect x="95.2" y="499.7" width="22.200000000000003" height="6.2" rx="3" fill="#000" filter="url(#blur)"/>
<rect x="121.3" y="499.7" width="21.200000000000003" height="6.2" rx="3" fill="#000" filter="url(#blur)"/>
<rect x="145.9" y="499.7" width="22.099999999999994" height="6.2" rx="3" fill="#000" filter="url(#blur)"/>
<rect x="172.0" y="499.7" width="23.69999999999999" height="6.2" rx="3" fill="#000" filter="url(#blur)"/>
<text transform="translate(37.50 531.20) scale(0.833 1)" font-size="11.76" font-weight="bold" text-anchor="middle" fill="#000" stroke="#000" stroke-width="0.25">Everolimus</text>
<text transform="translate(39.50 549.60) scale(0.833 1)" font-size="11.76" font-weight="bold" text-anchor="middle" fill="#000" stroke="#000" stroke-width="0.25">KU57788</text>
<text transform="translate(41.40 571.20) scale(0.833 1)" font-size="11.76" font-weight="bold" text-anchor="middle" fill="#000" stroke="#000" stroke-width="0.25">BEZ235</text>
<line x1="77.50" y1="532.20" x2="81.30" y2="532.20" stroke="#000" stroke-width="1.9" stroke-linecap="butt"/>
<line x1="103.50" y1="531.60" x2="109.10" y2="531.60" stroke="#000" stroke-width="1.9" stroke-linecap="butt"/>
<line x1="106.30" y1="528.80" x2="106.30" y2="534.40" stroke="#000" stroke-width="1.9" stroke-linecap="butt"/>
<line x1="128.30" y1="532.20" x2="132.10" y2="532.20" stroke="#000" stroke-width="1.9" stroke-linecap="butt"/>
<line x1="154.20" y1="531.60" x2="159.80" y2="531.60" stroke="#000" stroke-width="1.9" stroke-linecap="butt"/>
<line x1="157.00" y1="528.80" x2="157.00" y2="534.40" stroke="#000" stroke-width="1.9" stroke-linecap="butt"/>
<line x1="179.20" y1="532.20" x2="183.00" y2="532.20" stroke="#000" stroke-width="1.9" stroke-linecap="butt"/>
<line x1="77.50" y1="548.90" x2="81.30" y2="548.90" stroke="#000" stroke-width="1.9" stroke-linecap="butt"/>
<line x1="103.20" y1="548.90" x2="107.00" y2="548.90" stroke="#000" stroke-width="1.9" stroke-linecap="butt"/>
<line x1="129.00" y1="547.90" x2="134.60" y2="547.90" stroke="#000" stroke-width="1.9" stroke-linecap="butt"/>
<line x1="131.80" y1="545.10" x2="131.80" y2="550.70" stroke="#000" stroke-width="1.9" stroke-linecap="butt"/>
<line x1="154.20" y1="547.90" x2="159.80" y2="547.90" stroke="#000" stroke-width="1.9" stroke-linecap="butt"/>
<line x1="157.00" y1="545.10" x2="157.00" y2="550.70" stroke="#000" stroke-width="1.9" stroke-linecap="butt"/>
<line x1="179.20" y1="548.90" x2="183.00" y2="548.90" stroke="#000" stroke-width="1.9" stroke-linecap="butt"/>
<line x1="78.90" y1="568.10" x2="82.70" y2="568.10" stroke="#000" stroke-width="1.9" stroke-linecap="butt"/>
<line x1="104.30" y1="568.10" x2="108.10" y2="568.10" stroke="#000" stroke-width="1.9" stroke-linecap="butt"/>
<line x1="130.00" y1="568.10" x2="133.80" y2="568.10" stroke="#000" stroke-width="1.9" stroke-linecap="butt"/>
<line x1="155.60" y1="568.10" x2="159.40" y2="568.10" stroke="#000" stroke-width="1.9" stroke-linecap="butt"/>
<line x1="178.10" y1="567.50" x2="183.70" y2="567.50" stroke="#000" stroke-width="1.9" stroke-linecap="butt"/>
<line x1="180.90" y1="564.70" x2="180.90" y2="570.30" stroke="#000" stroke-width="1.9" stroke-linecap="butt"/>
<text transform="translate(228.50 434.60)" font-size="16.8" font-weight="bold" text-anchor="start" fill="#000" stroke="#000" stroke-width="0.3">F</text>
<line x1="253.50" y1="572.90" x2="456.00" y2="572.90" stroke="#000" stroke-width="2" stroke-linecap="butt"/>
<line x1="253.50" y1="440.50" x2="253.50" y2="573.90" stroke="#000" stroke-width="2" stroke-linecap="butt"/>
<line x1="248.00" y1="572.90" x2="253.50" y2="572.90" stroke="#000" stroke-width="2" stroke-linecap="butt"/>
<text transform="translate(248.20 576.75) scale(0.94 1)" font-size="10.0" font-weight="bold" text-anchor="end" fill="#000" stroke="#000" stroke-width="0.22">0</text>
<line x1="248.00" y1="546.60" x2="253.50" y2="546.60" stroke="#000" stroke-width="2" stroke-linecap="butt"/>
<text transform="translate(248.20 550.45) scale(0.94 1)" font-size="10.0" font-weight="bold" text-anchor="end" fill="#000" stroke="#000" stroke-width="0.22">20</text>
<line x1="248.00" y1="520.30" x2="253.50" y2="520.30" stroke="#000" stroke-width="2" stroke-linecap="butt"/>
<text transform="translate(248.20 524.15) scale(0.94 1)" font-size="10.0" font-weight="bold" text-anchor="end" fill="#000" stroke="#000" stroke-width="0.22">40</text>
<line x1="248.00" y1="494.00" x2="253.50" y2="494.00" stroke="#000" stroke-width="2" stroke-linecap="butt"/>
<text transform="translate(248.20 497.85) scale(0.94 1)" font-size="10.0" font-weight="bold" text-anchor="end" fill="#000" stroke="#000" stroke-width="0.22">60</text>
<line x1="248.00" y1="467.70" x2="253.50" y2="467.70" stroke="#000" stroke-width="2" stroke-linecap="butt"/>
<text transform="translate(248.20 471.55) scale(0.94 1)" font-size="10.0" font-weight="bold" text-anchor="end" fill="#000" stroke="#000" stroke-width="0.22">80</text>
<line x1="248.00" y1="441.40" x2="253.50" y2="441.40" stroke="#000" stroke-width="2" stroke-linecap="butt"/>
<text transform="translate(248.20 445.25) scale(0.94 1)" font-size="10.0" font-weight="bold" text-anchor="end" fill="#000" stroke="#000" stroke-width="0.22">100</text>
<text transform="translate(226.60 505.40) rotate(-90)" font-size="10.3" font-weight="bold" text-anchor="middle" fill="#000" stroke="#000" stroke-width="0.2">% Annexin / PI</text>
<line x1="265.35" y1="551.80" x2="265.35" y2="549.50" stroke="#000" stroke-width="1.8" stroke-linecap="butt"/>
<line x1="262.85" y1="549.50" x2="267.85" y2="549.50" stroke="#000" stroke-width="1.8" stroke-linecap="butt"/>
<rect x="259.90" y="551.80" width="10.90" height="21.10" fill="#000"/>
<line x1="279.35" y1="558.80" x2="279.35" y2="558.00" stroke="#000" stroke-width="1.8" stroke-linecap="butt"/>
<line x1="276.85" y1="558.00" x2="281.85" y2="558.00" stroke="#000" stroke-width="1.8" stroke-linecap="butt"/>
<rect x="274.80" y="559.70" width="9.10" height="13.20" fill="#858585" stroke="#000" stroke-width="1.8"/>
<line x1="292.95" y1="550.50" x2="292.95" y2="543.50" stroke="#000" stroke-width="1.8" stroke-linecap="butt"/>
<line x1="290.45" y1="543.50" x2="295.45" y2="543.50" stroke="#000" stroke-width="1.8" stroke-linecap="butt"/>
<rect x="288.40" y="551.40" width="9.10" height="21.50" fill="#cdcdcd" stroke="#000" stroke-width="1.8"/>
<line x1="279.10" y1="573.90" x2="279.10" y2="577.90" stroke="#000" stroke-width="1.8" stroke-linecap="butt"/>
<line x1="315.85" y1="515.00" x2="315.85" y2="509.60" stroke="#000" stroke-width="1.8" stroke-linecap="butt"/>
<line x1="313.35" y1="509.60" x2="318.35" y2="509.60" stroke="#000" stroke-width="1.8" stroke-linecap="butt"/>
<rect x="310.40" y="515.00" width="10.90" height="57.90" fill="#000"/>
<line x1="329.85" y1="542.90" x2="329.85" y2="540.80" stroke="#000" stroke-width="1.8" stroke-linecap="butt"/>
<line x1="327.35" y1="540.80" x2="332.35" y2="540.80" stroke="#000" stroke-width="1.8" stroke-linecap="butt"/>
<rect x="325.30" y="543.80" width="9.10" height="29.10" fill="#858585" stroke="#000" stroke-width="1.8"/>
<line x1="343.45" y1="541.60" x2="343.45" y2="530.80" stroke="#000" stroke-width="1.8" stroke-linecap="butt"/>
<line x1="340.95" y1="530.80" x2="345.95" y2="530.80" stroke="#000" stroke-width="1.8" stroke-linecap="butt"/>
<rect x="338.90" y="542.50" width="9.10" height="30.40" fill="#cdcdcd" stroke="#000" stroke-width="1.8"/>
<line x1="329.60" y1="573.90" x2="329.60" y2="577.90" stroke="#000" stroke-width="1.8" stroke-linecap="butt"/>
<line x1="366.55" y1="530.30" x2="366.55" y2="526.20" stroke="#000" stroke-width="1.8" stroke-linecap="butt"/>
<line x1="364.05" y1="526.20" x2="369.05" y2="526.20" stroke="#000" stroke-width="1.8" stroke-linecap="butt"/>
<rect x="361.10" y="530.30" width="10.90" height="42.60" fill="#000"/>
<line x1="380.55" y1="531.20" x2="380.55" y2="529.60" stroke="#000" stroke-width="1.8" stroke-linecap="butt"/>
<line x1="378.05" y1="529.60" x2="383.05" y2="529.60" stroke="#000" stroke-width="1.8" stroke-linecap="butt"/>
<rect x="376.00" y="532.10" width="9.10" height="40.80" fill="#858585" stroke="#000" stroke-width="1.8"/>
<line x1="394.15" y1="538.80" x2="394.15" y2="531.20" stroke="#000" stroke-width="1.8" stroke-linecap="butt"/>
<line x1="391.65" y1="531.20" x2="396.65" y2="531.20" stroke="#000" stroke-width="1.8" stroke-linecap="butt"/>
<rect x="389.60" y="539.70" width="9.10" height="33.20" fill="#cdcdcd" stroke="#000" stroke-width="1.8"/>
<line x1="380.30" y1="573.90" x2="380.30" y2="577.90" stroke="#000" stroke-width="1.8" stroke-linecap="butt"/>
<line x1="417.15" y1="465.90" x2="417.15" y2="458.30" stroke="#000" stroke-width="1.8" stroke-linecap="butt"/>
<line x1="414.65" y1="458.30" x2="419.65" y2="458.30" stroke="#000" stroke-width="1.8" stroke-linecap="butt"/>
<rect x="411.70" y="465.90" width="10.90" height="107.00" fill="#000"/>
<rect x="426.60" y="498.90" width="9.10" height="74.00" fill="#858585" stroke="#000" stroke-width="1.8"/>
<line x1="444.75" y1="524.00" x2="444.75" y2="512.40" stroke="#000" stroke-width="1.8" stroke-linecap="butt"/>
<line x1="442.25" y1="512.40" x2="447.25" y2="512.40" stroke="#000" stroke-width="1.8" stroke-linecap="butt"/>
<rect x="440.20" y="524.90" width="9.10" height="48.00" fill="#cdcdcd" stroke="#000" stroke-width="1.8"/>
<line x1="430.90" y1="573.90" x2="430.90" y2="577.90" stroke="#000" stroke-width="1.8" stroke-linecap="butt"/>
<text transform="translate(276.60 590.60)" font-size="9" font-weight="bold" text-anchor="middle" fill="#000" stroke="#000" stroke-width="0.22">DMSO</text>
<text transform="translate(329.10 590.50)" font-size="9.2" font-weight="bold" text-anchor="middle" fill="#000" stroke="#000" stroke-width="0.22">KU57788</text>
<text transform="translate(330.90 601.90) scale(0.89 1)" font-size="10.2" font-weight="normal" text-anchor="middle" fill="#000" stroke="#000" stroke-width="0.12">(2000nM)</text>
<text transform="translate(381.50 590.50)" font-size="9.0" font-weight="bold" text-anchor="middle" fill="#000" stroke="#000" stroke-width="0.22">Everolimus</text>
<text transform="translate(379.70 601.90) scale(0.89 1)" font-size="10.2" font-weight="normal" text-anchor="middle" fill="#000" stroke="#000" stroke-width="0.12">(100nM)</text>
<text transform="translate(435.50 590.80)" font-size="9.0" font-weight="bold" text-anchor="middle" fill="#000" stroke="#000" stroke-width="0.22">KU557788</text>
<text transform="translate(435.30 600.60)" font-size="9.0" font-weight="bold" text-anchor="middle" fill="#000" stroke="#000" stroke-width="0.22">Everolimus</text>
<text transform="translate(417.60 448.40)" font-size="12.4" font-weight="bold" text-anchor="middle" fill="#000" stroke="#000" stroke-width="0.22">#</text>
<rect x="445.30" y="446.90" width="17.40" height="9.80" fill="#000"/>
<rect x="446.60" y="463.30" width="15.30" height="8.10" fill="#787878" stroke="#000" stroke-width="2"/>
<rect x="446.60" y="479.30" width="15.30" height="8.00" fill="#d9d9d9" stroke="#000" stroke-width="2"/>
<text transform="translate(468.00 456.20)" font-size="10.5" font-weight="normal" text-anchor="start" fill="#000" stroke="#000" stroke-width="0.12">4242</text>
<text transform="translate(469.30 471.40)" font-size="10.1" font-weight="normal" text-anchor="start" fill="#000" stroke="#000" stroke-width="0.12">Bmf -/- #14</text>
<text transform="translate(468.30 487.60)" font-size="10.1" font-weight="normal" text-anchor="start" fill="#000" stroke="#000" stroke-width="0.12">Bmf -/- #31</text>
</svg>
</body></html>
